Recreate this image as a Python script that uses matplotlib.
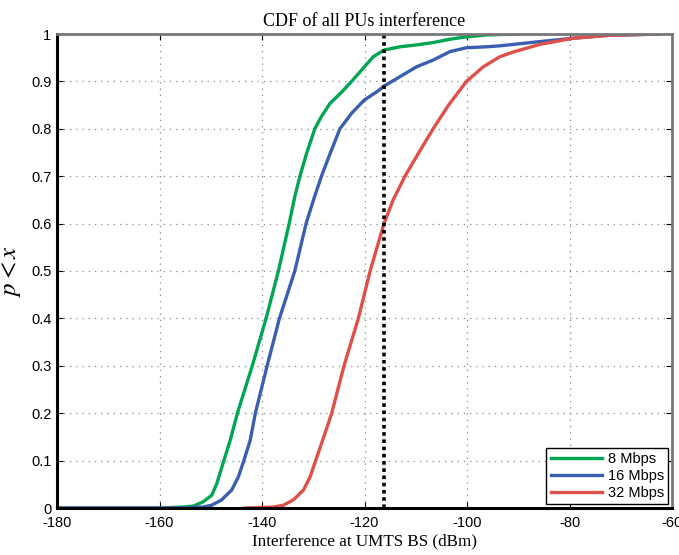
import matplotlib
matplotlib.use("Agg")
import matplotlib.pyplot as plt

plt.rcParams["mathtext.fontset"] = "stix"
plt.rcParams["axes.unicode_minus"] = False

# Data (x in dBm, y = CDF)
x_8 = [-180, -160, -155.4, -153.4, -151.5, -149.8, -148.8, -147.5, -146.2, -144.8, -141.9,
       -139.2, -136.8, -134.7, -133.6, -132.6, -131.3, -129.7, -128.4, -126.7, -124.4,
       -122.6, -120.4, -118.3, -116.2, -113.1, -109.8, -106.6, -103.3, -100.1, -96.2, -90]
y_8 = [0, 0, 0.002, 0.004, 0.013, 0.027, 0.052, 0.098, 0.143, 0.2, 0.3,
       0.4, 0.5, 0.6, 0.657, 0.7, 0.748, 0.8, 0.826, 0.854, 0.878,
       0.899, 0.926, 0.952, 0.966, 0.973, 0.977, 0.982, 0.989, 0.994, 0.998, 1.0]

x_16 = [-180, -156, -151.5, -149.8, -147.9, -145.9, -144.6, -143.6, -142.3, -141.3, -139.0,
        -136.6, -133.6, -131.4, -129.8, -128.4, -126.7, -124.8, -122.5, -120.0, -117.6,
        -116.2, -113.4, -109.8, -106.6, -103.3, -100.1, -96.2, -93.6, -85.8, -79.3, -72.7, -62.7]
y_16 = [0, 0, 0.002, 0.006, 0.017, 0.038, 0.066, 0.098, 0.143, 0.2, 0.3,
        0.4, 0.5, 0.6, 0.655, 0.7, 0.748, 0.8, 0.833, 0.861, 0.878,
        0.89, 0.908, 0.931, 0.945, 0.963, 0.971, 0.973, 0.975, 0.984, 0.991, 0.997, 1.0]

x_32 = [-143.3, -137.8, -135.8, -133.9, -131.9, -130.6, -129.6, -128.1, -126.4, -124.0,
        -121.2, -118.9, -116.2, -114.4, -112.1, -109.5, -106.6, -103.6, -100.1, -96.8,
        -93.6, -91.0, -85.8, -79.3, -72.7, -62.7]
y_32 = [0, 0.002, 0.006, 0.017, 0.038, 0.066, 0.098, 0.145, 0.2, 0.3,
        0.4, 0.5, 0.6, 0.65, 0.7, 0.748, 0.8, 0.85, 0.9, 0.931,
        0.952, 0.962, 0.978, 0.991, 0.997, 1.0]

threshold = -116.2
labels = ["8 Mbps", "16 Mbps", "32 Mbps"]
colors = ["#00a651", "#3a5fb0", "#e0504a"]

fig = plt.figure(figsize=(6.79, 5.55), dpi=100)
ax = fig.add_axes([57/679, 47/555, 615/679, 474/555])

for xs, ys, lab, c in zip([x_8, x_16, x_32], [y_8, y_16, y_32], labels, colors):
    ax.plot(xs, ys, color=c, lw=2.4, label=lab, solid_joinstyle="round")

ax.plot([threshold, threshold], [0, 1], color="black", lw=2.6, linestyle=(0, (1, 1)))

ax.set_xlim(-180, -60)
ax.set_ylim(0, 1)
ax.set_xticks(range(-180, -59, 20))
ax.set_yticks([i / 10 for i in range(11)])
ax.set_yticklabels(["0"] + [f"0.{i}" for i in range(1, 10)] + ["1"])
ax.grid(True, color="#888888", linestyle=(0, (1, 4)), lw=0.9)

for side in ["left", "bottom"]:
    ax.spines[side].set_color("black")
    ax.spines[side].set_linewidth(2.2)
for side in ["top", "right"]:
    ax.spines[side].set_color("#777777")
    ax.spines[side].set_linewidth(2.0)

ax.tick_params(direction="in", length=4, width=0.8, top=True, right=True,
               labelsize=10.5)
ax.tick_params(axis="x", pad=6)
ax.tick_params(axis="y", pad=4)
for t in ax.get_xticklabels() + ax.get_yticklabels():
    t.set_family("Liberation Sans")

ax.set_title("CDF of all PUs interference", family="Liberation Serif", fontsize=13, pad=6)
ax.set_xlabel("Interference at UMTS BS (dBm)", family="Liberation Serif", fontsize=12.3, labelpad=2)
ax.set_ylabel(r"$p < x$", fontsize=18, labelpad=6)

leg = ax.legend(loc="lower right", prop={"family": "Liberation Sans", "size": 10.5},
                frameon=True, fancybox=False, edgecolor="black", framealpha=1,
                handlelength=3.5, borderaxespad=0.25, labelspacing=0.2,
                handletextpad=0.4, borderpad=0.3)
leg.get_frame().set_linewidth(1.0)

fig.savefig("out.png", dpi=100)
